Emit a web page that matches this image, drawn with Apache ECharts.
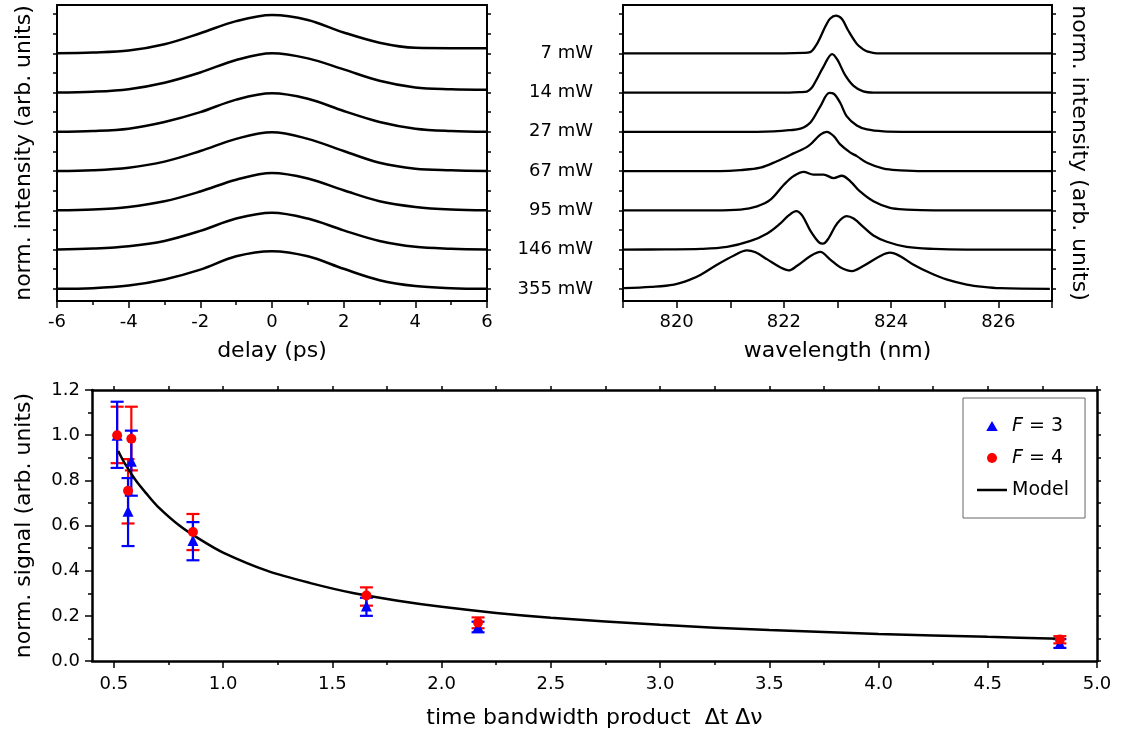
<!DOCTYPE html>
<html>
<head>
<meta charset="utf-8">
<script src="https://cdn.jsdelivr.net/npm/echarts@6/dist/echarts.min.js"></script>
<style>
    html, body { margin: 0; padding: 0; background: #fff; }
    #chart { width: 1132px; height: 739px; }
</style>
</head>
<body>
<div id="chart"></div>
<script>
const FONT = "DejaVu Sans";

/* top left: autocorrelation vs delay (normalised, each trace offset by 1) */
const delayPs = [-6, -5, -4, -3, -2, -1, 0, 1, 2, 3, 4, 5, 6];
const acf7mW = [0, 0.02, 0.07, 0.23, 0.51, 0.82, 0.975, 0.85, 0.53, 0.27, 0.14, 0.13, 0.13];
const acf14mW = [0, 0.02, 0.085, 0.25, 0.51, 0.83, 1.0, 0.87, 0.59, 0.30, 0.13, 0.085, 0.07];
const acf27mW = [0, 0.02, 0.08, 0.25, 0.50, 0.82, 0.98, 0.84, 0.53, 0.25, 0.08, 0.02, 0];
const acf67mW = [0, 0.02, 0.085, 0.24, 0.51, 0.82, 0.99, 0.82, 0.51, 0.21, 0.06, 0.02, 0];
const acf95mW = [0, 0.02, 0.085, 0.23, 0.48, 0.78, 0.95, 0.81, 0.51, 0.23, 0.085, 0.02, 0];
const acf146mW = [0, 0.025, 0.085, 0.22, 0.475, 0.79, 0.94, 0.79, 0.49, 0.22, 0.07, 0.02, 0];
const acf355mW = [0, 0.017, 0.085, 0.24, 0.49, 0.83, 0.96, 0.83, 0.51, 0.22, 0.07, 0.017, 0];

/* top right: spectra, [wavelength nm, normalised intensity] */
const spec7mW = [[819, 0], [822.0, 0], [822.35, 0.01], [822.49, 0.03], [822.6, 0.2], [822.68, 0.41], [822.78, 0.7], [822.86, 0.88], [822.97, 0.96], [823.08, 0.88], [823.2, 0.58], [823.36, 0.24], [823.48, 0.1], [823.55, 0.05], [823.73, 0], [827, 0]];
const spec14mW = [[819, 0], [822.1, 0], [822.3, 0.01], [822.43, 0.025], [822.52, 0.12], [822.59, 0.28], [822.74, 0.66], [822.9, 0.98], [823.0, 0.83], [823.14, 0.45], [823.3, 0.17], [823.48, 0.03], [823.67, 0], [827, 0]];
const spec27mW = [[819, 0], [821.5, 0], [821.81, 0.01], [822.1, 0.04], [822.31, 0.08], [822.49, 0.23], [822.68, 0.65], [822.85, 0.99], [822.93, 0.97], [823.05, 0.74], [823.17, 0.4], [823.36, 0.16], [823.55, 0.06], [823.86, 0.01], [824.2, 0], [827, 0]];
const spec67mW = [[819, 0], [820.8, 0], [821.19, 0.025], [821.56, 0.085], [821.87, 0.25], [822.18, 0.45], [822.46, 0.64], [822.68, 0.93], [822.8, 1.0], [822.93, 0.89], [823.05, 0.68], [823.24, 0.47], [823.36, 0.38], [823.55, 0.21], [823.86, 0.06], [824.17, 0.02], [824.6, 0], [827, 0]];
const spec95mW = [[819, 0], [820.7, 0], [821.19, 0.02], [821.5, 0.1], [821.75, 0.27], [822.0, 0.65], [822.18, 0.87], [822.37, 0.98], [822.55, 0.91], [822.74, 0.91], [822.93, 0.82], [823.08, 0.88], [823.24, 0.74], [823.42, 0.48], [823.67, 0.23], [823.98, 0.06], [824.29, 0.02], [824.8, 0], [827, 0]];
const spec146mW = [[819, 0], [819.8, 0.005], [820.45, 0.017], [820.94, 0.068], [821.38, 0.22], [821.69, 0.41], [821.93, 0.66], [822.09, 0.87], [822.23, 0.98], [822.34, 0.87], [822.49, 0.49], [822.65, 0.19], [822.73, 0.15], [822.83, 0.28], [822.99, 0.66], [823.17, 0.85], [823.3, 0.79], [823.48, 0.58], [823.67, 0.36], [823.92, 0.2], [824.29, 0.068], [824.79, 0.017], [825.41, 0], [827, 0]];
const spec355mW = [[819.02, 0.017], [819.52, 0.05], [819.95, 0.11], [820.26, 0.24], [820.45, 0.36], [820.76, 0.62], [821.07, 0.85], [821.31, 0.98], [821.47, 0.93], [821.69, 0.75], [821.93, 0.55], [822.09, 0.47], [822.24, 0.58], [822.49, 0.83], [822.68, 0.94], [822.86, 0.75], [823.05, 0.55], [823.27, 0.45], [823.48, 0.58], [823.79, 0.83], [823.98, 0.92], [824.17, 0.83], [824.41, 0.62], [824.72, 0.41], [825.03, 0.24], [825.41, 0.11], [825.72, 0.05], [826.03, 0.017], [826.96, 0]];

// bottom → top order
const powerLabels = ["355 mW", "146 mW", "95 mW", "67 mW", "27 mW", "14 mW", "7 mW"];
const acfTraces = [acf355mW, acf146mW, acf95mW, acf67mW, acf27mW, acf14mW, acf7mW];
const specTraces = [spec355mW, spec146mW, spec95mW, spec67mW, spec27mW, spec14mW, spec7mW];
const stackTicks = [0, 0.5, 1, 1.5, 2, 2.5, 3, 3.5, 4, 4.5, 5, 5.5, 6, 6.5, 7];

/* bottom: normalised signal vs time bandwidth product, [x, y, low, high] */
const f3Points = [[0.515, 1.0, 0.855, 1.148], [0.565, 0.663, 0.509, 0.81], [0.58, 0.884, 0.732, 1.02], [0.862, 0.534, 0.446, 0.615], [1.656, 0.243, 0.2, 0.28], [2.167, 0.152, 0.127, 0.174], [4.83, 0.078, 0.058, 0.097]];
const f4Points = [[0.515, 1.0, 0.876, 1.126], [0.565, 0.754, 0.609, 0.894], [0.58, 0.984, 0.844, 1.126], [0.862, 0.571, 0.491, 0.651], [1.656, 0.29, 0.245, 0.326], [2.167, 0.17, 0.145, 0.193], [4.83, 0.095, 0.078, 0.11]];
const modelX = [0.52, 0.55, 0.6, 0.65, 0.7, 0.8, 0.9, 1.0, 1.2, 1.4, 1.6, 1.8, 2.0, 2.25, 2.5, 3.0, 3.5, 4.0, 4.5, 4.83];
const modelY = [0.93, 0.875, 0.80, 0.74, 0.685, 0.60, 0.535, 0.48, 0.40, 0.345, 0.30, 0.267, 0.24, 0.213, 0.192, 0.16, 0.137, 0.12, 0.107, 0.099];
const tbpLabels = [0.5, 1.0, 1.5, 2.0, 2.5, 3.0, 3.5, 4.0, 4.5, 5.0];
const tbpMinor = [0.75, 1.25, 1.75, 2.25, 2.75, 3.25, 3.75, 4.25, 4.75];

const black = "#000";
const labelStyle = { color: black, fontSize: 18, fontFamily: FONT };
const nameStyle = { color: black, fontSize: 22, fontFamily: FONT };
const line = w => ({ show: true, onZero: false, lineStyle: { color: black, width: w } });
const tick = (len, extra) => Object.assign({ show: true, length: len, lineStyle: { color: black, width: 1.5 } }, extra || {});
const off = { show: false };

// plain framing axis (no labels)
const frameAxis = (extra) => Object.assign({
    type: "value",
    axisLine: line(2),
    axisTick: off,
    axisLabel: off,
    splitLine: off,
}, extra);

const errorBars = (points, color) => ({
    type: "custom",
    xAxisIndex: 4,
    yAxisIndex: 4,
    z: 2,
    silent: true,
    renderItem: (params, api) => {
        const x = api.value(0);
        const top = api.coord([x, api.value(3)]);
        const bot = api.coord([x, api.value(2)]);
        const w = 6.5;
        const st = { stroke: color, lineWidth: 2.2 };
        return {
            type: "group",
            children: [
                { type: "line", shape: { x1: top[0], y1: top[1], x2: bot[0], y2: bot[1] }, style: st },
                { type: "line", shape: { x1: top[0] - w, y1: top[1], x2: top[0] + w, y2: top[1] }, style: st },
                { type: "line", shape: { x1: bot[0] - w, y1: bot[1], x2: bot[0] + w, y2: bot[1] }, style: st },
            ],
        };
    },
    encode: { x: 0, y: 1 },
    data: points,
});

const series = [];
acfTraces.forEach((trace, k) => {
    series.push({
        type: "line", xAxisIndex: 0, yAxisIndex: 0,
        showSymbol: false, smooth: 0.35, silent: true,
        lineStyle: { color: black, width: 2.5 },
        data: delayPs.map((x, i) => [x, k + trace[i]]),
    });
});
specTraces.forEach((trace, k) => {
    series.push({
        type: "line", xAxisIndex: 2, yAxisIndex: 2,
        showSymbol: false, smooth: 0.35, silent: true,
        lineStyle: { color: black, width: 2.3 },
        data: trace.map(p => [p[0], k + p[1]]),
    });
});
series.push(errorBars(f4Points, "#ff0000"));
series.push(errorBars(f3Points, "#0000ff"));
series.push({
    name: "Model", type: "line", xAxisIndex: 4, yAxisIndex: 4, z: 3,
    showSymbol: false, smooth: 0.3, color: black,
    lineStyle: { color: black, width: 2.5 },
    data: modelX.map((x, i) => [x, modelY[i]]),
});
series.push({
    name: "F = 3", type: "scatter", xAxisIndex: 4, yAxisIndex: 4, z: 4,
    symbol: "triangle", symbolSize: 11, color: "#0000ff",
    itemStyle: { color: "#0000ff", opacity: 1 },
    data: f3Points.map(p => [p[0], p[1]]),
});
series.push({
    name: "F = 4", type: "scatter", xAxisIndex: 4, yAxisIndex: 4, z: 5,
    symbol: "circle", symbolSize: 10, color: "#ff0000",
    itemStyle: { color: "#ff0000", opacity: 1 },
    data: f4Points.map(p => [p[0], p[1]]),
});

const option = {
    animation: false,
    backgroundColor: "#fff",
    grid: [
        { left: 57, top: 5, width: 430, height: 296, outerBoundsMode: "none" },
        { left: 623, top: 5, width: 429, height: 296, outerBoundsMode: "none" },
        { left: 92, top: 390, width: 1005, height: 271, outerBoundsMode: "none" },
    ],
    legend: {
        data: [
            { name: "F = 3", icon: "path://M5,0L10,8.7L0,8.7Z" },
            { name: "F = 4", icon: "circle" },
            { name: "Model", icon: "path://M0,0H30V2.5H0Z" },
        ],
        orient: "vertical",
        left: 963,
        top: 398,
        padding: [18, 16, 18, 14],
        itemGap: 12,
        itemWidth: 30,
        itemHeight: 10,
        symbolKeepAspect: true,
        borderColor: "#666",
        borderWidth: 1,
        selectedMode: false,
        formatter: name => name.startsWith("F") ? "{i|F}" + name.slice(1) : name,
        textStyle: {
            color: black, fontSize: 19, fontFamily: FONT, lineHeight: 20,
            rich: { i: { fontStyle: "italic", fontSize: 19, fontFamily: FONT, color: black, lineHeight: 20 } },
        },
    },
    xAxis: [
        {
            gridIndex: 0, type: "value", min: -6, max: 6, interval: 2,
            axisLine: line(2),
            axisTick: tick(7),
            minorTick: { show: true, splitNumber: 2, length: 4, lineStyle: { color: black, width: 1.5 } },
            splitLine: off, minorSplitLine: off,
            axisLabel: Object.assign({ margin: 12, showMinLabel: true, showMaxLabel: true }, labelStyle),
            name: "delay (ps)", nameLocation: "middle", nameGap: 39, nameTextStyle: nameStyle, nameMoveOverlap: false,
        },
        frameAxis({ gridIndex: 0, position: "top", min: -6, max: 6 }),
        {
            gridIndex: 1, type: "value", min: 819, max: 827, interval: 1,
            axisLine: line(2),
            axisTick: tick(7),
            splitLine: off,
            axisLabel: Object.assign({ margin: 12, formatter: v => (v % 2 === 0 ? String(v) : "") }, labelStyle),
            name: "wavelength (nm)", nameLocation: "middle", nameGap: 39, nameTextStyle: nameStyle, nameMoveOverlap: false,
        },
        frameAxis({ gridIndex: 1, position: "top", min: 819, max: 827 }),
        {
            gridIndex: 2, type: "value", min: 0.4, max: 5.0,
            axisLine: line(2.5),
            axisTick: tick(7, { customValues: tbpLabels }),
            splitLine: off,
            axisLabel: Object.assign({ margin: 14, customValues: tbpLabels, formatter: v => v.toFixed(1) }, labelStyle),
            name: "time bandwidth product  \u0394t \u0394\u03bd", nameLocation: "middle", nameGap: 46,
            nameTextStyle: nameStyle, nameMoveOverlap: false,
        },
        {
            gridIndex: 2, type: "value", position: "bottom", min: 0.4, max: 5.0,
            axisLine: { show: false, onZero: false },
            axisTick: tick(4, { customValues: tbpMinor }),
            axisLabel: off, splitLine: off,
        },
        frameAxis({
            gridIndex: 2, position: "top", min: 0.4, max: 5.0,
            axisLine: line(2.5),
            axisTick: tick(4, { customValues: tbpLabels.concat(tbpMinor) }),
        }),
    ],
    yAxis: [
        frameAxis({
            gridIndex: 0, position: "left", min: -0.31, max: 7.23,
            axisTick: tick(4, { customValues: stackTicks }),
            name: "norm. intensity (arb. units)", nameLocation: "middle", nameGap: 22, nameRotate: 90,
            nameTextStyle: nameStyle, nameMoveOverlap: false,
        }),
        frameAxis({
            gridIndex: 0, position: "right", min: -0.31, max: 7.23,
            axisTick: tick(4, { customValues: stackTicks }),
        }),
        frameAxis({
            gridIndex: 1, position: "left", min: -0.31, max: 7.23,
            axisTick: tick(4, { customValues: stackTicks }),
            axisLabel: Object.assign({
                show: true, margin: 30,
                customValues: [0, 1, 2, 3, 4, 5, 6],
                formatter: v => powerLabels[Math.round(v)],
            }, labelStyle),
        }),
        frameAxis({
            gridIndex: 1, position: "right", min: -0.31, max: 7.23,
            axisTick: tick(4, { customValues: stackTicks }),
            name: "norm. intensity (arb. units)", nameLocation: "middle", nameGap: 16, nameRotate: -90,
            nameTextStyle: nameStyle, nameMoveOverlap: false,
        }),
        {
            gridIndex: 2, type: "value", position: "left", min: 0, max: 1.2, interval: 0.2,
            axisLine: line(2.5),
            axisTick: tick(7),
            minorTick: { show: true, splitNumber: 2, length: 4, lineStyle: { color: black, width: 1.5 } },
            splitLine: off, minorSplitLine: off,
            axisLabel: Object.assign({ margin: 12, formatter: v => v.toFixed(1) }, labelStyle),
            name: "norm. signal (arb. units)", nameLocation: "middle", nameGap: 57, nameRotate: 90,
            nameTextStyle: nameStyle, nameMoveOverlap: false,
        },
        frameAxis({
            gridIndex: 2, position: "right", min: 0, max: 1.2, interval: 0.1,
            axisLine: line(2.5),
            axisTick: tick(4),
        }),
    ],
    series: series,
};

const chart = echarts.init(document.getElementById("chart"));
chart.setOption(option);
</script>
</body>
</html>
